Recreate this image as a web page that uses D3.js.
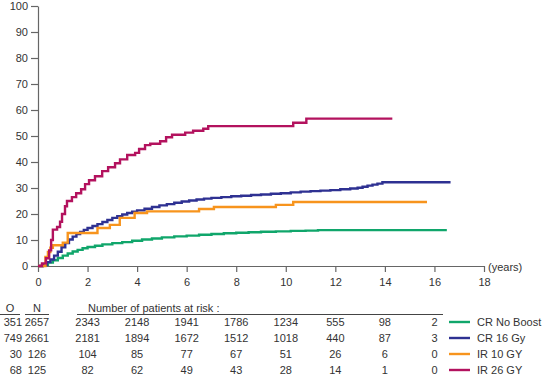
<!DOCTYPE html>
<html>
<head>
<meta charset="utf-8">
<script src="https://cdn.jsdelivr.net/npm/d3@7"></script>
<style>
  body { margin: 0; background: #fff; }
  svg text { font-family: "Liberation Sans", Arial, sans-serif; font-size: 11px; fill: #333; }
</style>
</head>
<body>
<svg id="chart" width="545" height="376"></svg>
<script>
// Data: cumulative incidence (%) step points, [year, percent]
var seriesNames = ['CR No Boost', 'CR 16 Gy', 'IR 10 GY', 'IR 26 GY'];
var seriesColors = ['#10a66b', '#2e3192', '#f7941d', '#b3125e'];

var crNoBoost = [[0,0],[0.2,0.5],[0.4,1.3],[0.6,2.2],[0.8,3.1],[1.0,4.0],[1.2,4.8],[1.4,5.6],[1.6,6.2],[1.8,6.8],[2.0,7.3],[2.3,7.8],[2.6,8.3],[3.0,8.8],[3.4,9.2],[3.8,9.7],[4.2,10.2],[4.6,10.6],[5.0,11.0],[5.5,11.4],[6.0,11.7],[6.5,12.0],[7.0,12.3],[7.5,12.6],[8.0,12.8],[8.5,13.0],[9.0,13.2],[9.6,13.3],[10.2,13.5],[10.8,13.6],[11.3,13.8],[16.5,13.8]];
var cr16Gy = [[0,0],[0.2,0.5],[0.35,1.5],[0.5,2.5],[0.65,4],[0.8,5.5],[0.95,7.2],[1.1,8.8],[1.25,10.2],[1.4,11.3],[1.55,12.3],[1.7,13.1],[1.85,13.9],[2.0,14.6],[2.2,15.4],[2.4,16.1],[2.6,16.9],[2.8,17.7],[3.0,18.5],[3.2,19.2],[3.4,19.8],[3.6,20.4],[3.8,20.9],[4.0,21.4],[4.3,22.0],[4.6,22.7],[4.9,23.3],[5.2,23.8],[5.5,24.3],[5.8,24.8],[6.1,25.2],[6.4,25.6],[6.7,25.9],[7.0,26.2],[7.4,26.5],[7.8,26.8],[8.2,27.0],[8.6,27.3],[9.0,27.5],[9.4,27.8],[9.8,28.0],[10.2,28.3],[10.6,28.6],[11.0,28.8],[11.4,29.0],[11.8,29.2],[12.2,29.5],[12.6,29.8],[12.9,30.1],[13.1,30.5],[13.3,30.9],[13.5,31.3],[13.7,31.7],[13.9,32.2],[16.65,32.2]];
var ir10Gy = [[0,0],[0.3,3.5],[0.4,5.4],[0.5,7],[0.6,8],[1.0,9],[1.2,12.7],[2.4,14.6],[2.9,15.8],[3.3,18.5],[3.9,20.4],[4.4,21],[6.5,21.9],[7.1,22.7],[9.6,23.5],[10.3,24.6],[15.7,24.6]];
var ir26Gy = [[0,0],[0.16,1],[0.32,3],[0.45,6],[0.53,10],[0.6,14],[0.77,15],[0.89,17],[0.97,20],[1.09,23],[1.17,25],[1.37,26.5],[1.54,28],[1.74,29.5],[1.9,31.5],[2.06,33],[2.3,34.5],[2.59,36.5],[2.83,38],[3.11,39.5],[3.31,41],[3.6,42.7],[3.92,43.5],[4.08,45],[4.32,46.5],[4.53,47],[4.93,48],[5.17,49.5],[5.41,50.5],[5.94,51.3],[6.26,52],[6.67,52.8],[6.87,53.8],[10.3,55.1],[10.83,56.7],[14.3,56.7]];
var allSeries = [crNoBoost, cr16Gy, ir10Gy, ir26Gy];

var xTicks = [0, 2, 4, 6, 8, 10, 12, 14, 16, 18];
var yTicks = [0, 10, 20, 30, 40, 50, 60, 70, 80, 90, 100];

// Risk table
var observed = [351, 749, 30, 68];
var totalN = [2657, 2661, 126, 125];
var riskYears = [2, 4, 6, 8, 10, 12, 14, 16];
var atRisk = [
  [2343, 2148, 1941, 1786, 1234, 555, 98, 2],
  [2181, 1894, 1672, 1512, 1018, 440, 87, 3],
  [104, 85, 77, 67, 51, 26, 6, 0],
  [82, 62, 49, 43, 28, 14, 1, 0]
];

var svg = d3.select('#chart');
var x = d3.scaleLinear().domain([0, 18]).range([38, 484]);
var y = d3.scaleLinear().domain([0, 100]).range([266, 6]);

// axes
var yAxisG = svg.append('g')
    .attr('transform', 'translate(38,0)')
    .call(d3.axisLeft(y).tickValues(yTicks).tickSize(7).tickSizeOuter(0).tickPadding(3));
var xAxisG = svg.append('g')
    .attr('transform', 'translate(0,266)')
    .call(d3.axisBottom(x).tickValues(xTicks).tickSize(6).tickSizeOuter(0).tickPadding(6));
[yAxisG, xAxisG].forEach(function(g) {
  g.selectAll('path, line').attr('stroke', '#666').attr('stroke-width', 1.2);
  g.selectAll('text').style('font-size', '11px').attr('fill', '#333')
    .style('font-family', '"Liberation Sans", Arial, sans-serif');
});
svg.append('text').attr('x', 488).attr('y', 271).text('(years)');

// curves
var line = d3.line()
    .x(function(d) { return x(d[0]); })
    .y(function(d) { return y(d[1]); })
    .curve(d3.curveStepAfter);

svg.selectAll('.curve').data(allSeries).enter()
  .append('path')
  .attr('class', 'curve')
  .attr('d', line)
  .attr('fill', 'none')
  .attr('stroke', function(d, i) { return seriesColors[i]; })
  .attr('stroke-width', 2.4);

// table headers
var rowY = d3.scalePoint().domain([0, 1, 2, 3]).range([326, 374]);
svg.append('text').attr('x', 10).attr('y', 312).attr('text-anchor', 'middle').text('O');
svg.append('text').attr('x', 37).attr('y', 312).attr('text-anchor', 'middle').text('N');
svg.append('text').attr('x', 88).attr('y', 312).text('Number of patients at risk :');
[[0, 20], [25, 49], [77, 443]].forEach(function(s) {
  svg.append('line').attr('x1', s[0]).attr('x2', s[1]).attr('y1', 314.5).attr('y2', 314.5)
    .attr('stroke', '#444').attr('stroke-width', 1);
});

seriesNames.forEach(function(name, i) {
  var ry = rowY(i);
  svg.append('text').attr('x', 22).attr('y', ry).attr('text-anchor', 'end').text(observed[i]);
  svg.append('text').attr('x', 37).attr('y', ry).attr('text-anchor', 'middle').text(totalN[i]);
  atRisk[i].forEach(function(v, j) {
    svg.append('text').attr('x', x(riskYears[j])).attr('y', ry).attr('text-anchor', 'middle').text(v);
  });
  svg.append('line').attr('x1', 449).attr('x2', 470).attr('y1', ry - 4).attr('y2', ry - 4)
    .attr('stroke', seriesColors[i]).attr('stroke-width', 2.4);
  svg.append('text').attr('x', 477).attr('y', ry).text(name);
});
</script>
</body>
</html>
